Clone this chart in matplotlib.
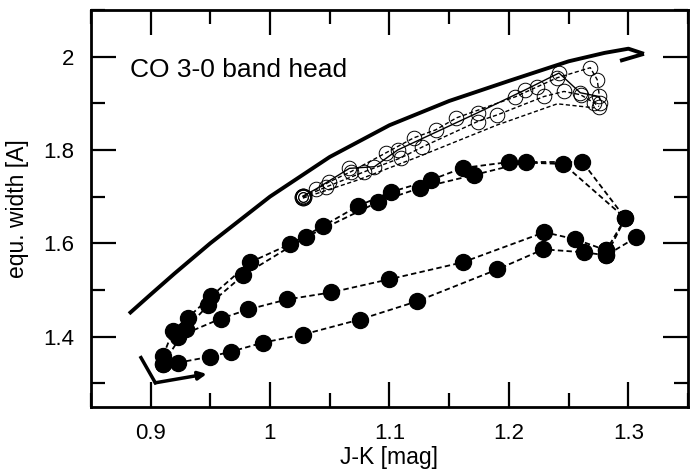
import matplotlib
matplotlib.use("Agg")
import matplotlib.pyplot as plt
from matplotlib.ticker import MultipleLocator

plt.rcParams["font.family"] = ["Liberation Sans", "DejaVu Sans"]

# thick model track
track_x = [0.882, 0.900, 0.920, 0.950, 0.980, 1.000, 1.050, 1.100, 1.150, 1.200, 1.250, 1.280, 1.300, 1.313]
track_y = [1.449, 1.490, 1.535, 1.600, 1.660, 1.700, 1.785, 1.853, 1.905, 1.948, 1.990, 2.008, 2.017, 2.006]
hook_x = [1.293, 1.313]
hook_y = [1.991, 2.006]

# bent arrow at lower left
arrow_x = [0.892, 0.904, 0.947]
arrow_y = [1.355, 1.301, 1.320]

# filled circles: two rising tracks, two returning tracks
up1_x = [0.9105, 0.9189, 0.9314, 0.9506, 0.9832, 1.0164, 1.0442, 1.0734, 1.1010, 1.1345, 1.1612, 1.2004, 1.2456, 1.2974, 1.2815]
up1_y = [1.3591, 1.4129, 1.4409, 1.4860, 1.5591, 1.5978, 1.6366, 1.6796, 1.7097, 1.7355, 1.7613, 1.7742, 1.7699, 1.6538, 1.5849]
up2_x = [0.9105, 0.9297, 0.9481, 0.9774, 1.0302, 1.0902, 1.1253, 1.1704, 1.2146, 1.2615, 1.2974, 1.2815, 1.3066]
up2_y = [1.3419, 1.4172, 1.4667, 1.5312, 1.6135, 1.6882, 1.7183, 1.7462, 1.7742, 1.7742, 1.6538, 1.5742, 1.6129]
mid_x = [1.2815, 1.2556, 1.2297, 1.1612, 1.0994, 1.0509, 1.0142, 0.9816, 0.9590, 0.9231]
mid_y = [1.5849, 1.6086, 1.6237, 1.5591, 1.5226, 1.4946, 1.4796, 1.4581, 1.4387, 1.4000]
low_x = [1.2815, 1.2631, 1.2288, 1.1904, 1.1227, 1.0751, 1.0275, 0.9941, 0.9673, 0.9498, 0.9231, 0.9105]
low_y = [1.5742, 1.5806, 1.5871, 1.5441, 1.4753, 1.4366, 1.4043, 1.3871, 1.3677, 1.3570, 1.3441, 1.3419]

# open circles band
o1_x = [1.0275, 1.0498, 1.0676, 1.0968, 1.1202, 1.1386, 1.1561, 1.2054, 1.2238, 1.2405, 1.2681, 1.2739, 1.2764]
o1_y = [1.6989, 1.7318, 1.7533, 1.7935, 1.8258, 1.8430, 1.8688, 1.9140, 1.9355, 1.9548, 1.9763, 1.9505, 1.9011]
o2_x = [1.0275, 1.0384, 1.0665, 1.0874, 1.1069, 1.1737, 1.2138, 1.2419, 1.2597, 1.2754]
o2_y = [1.7011, 1.7161, 1.7606, 1.7641, 1.8000, 1.8796, 1.9290, 1.9649, 1.9226, 1.9146]
o3_x = [1.0275, 1.0467, 1.0790, 1.1093, 1.1276, 1.1737, 1.1904, 1.2294, 1.2461, 1.2600, 1.2712, 1.2754]
o3_y = [1.6989, 1.7204, 1.7533, 1.7828, 1.8065, 1.8609, 1.8753, 1.9146, 1.9254, 1.9183, 1.9011, 1.8931]
o4_x = [1.0275, 1.0734, 1.1236, 1.1904, 1.2405, 1.2714]
o4_y = [1.6968, 1.7355, 1.7849, 1.8538, 1.8989, 1.8903]
# concentric rings at the start of the open-circle tracks
ring_x = [1.0275, 1.0275]
ring_y = [1.6995, 1.6995]

fig = plt.figure(figsize=(6.93, 4.75), dpi=100)
ax = fig.add_axes([0.131, 0.144, 0.862, 0.835])

ax.plot(track_x, track_y, color="k", lw=2.8, solid_capstyle="butt", solid_joinstyle="round")
ax.plot(hook_x, hook_y, color="k", lw=2.8, solid_capstyle="butt")

ax.plot(arrow_x[:2], arrow_y[:2], color="k", lw=2.5)
ax.annotate("", xy=(arrow_x[2], arrow_y[2]), xytext=(arrow_x[1], arrow_y[1]),
            arrowprops=dict(arrowstyle="-|>", lw=2.5, color="k", mutation_scale=12,
                            shrinkA=0, shrinkB=0))

dash = (0, (3, 1.8))
for xs, ys in [(up1_x, up1_y), (up2_x, up2_y), (mid_x, mid_y), (low_x, low_y)]:
    ax.plot(xs, ys, color="k", lw=1.3, ls=dash, marker="o", ms=11.5,
            mfc="k", mec="k")

ax.plot(o4_x, o4_y, color="k", lw=1.0, ls=dash)
for xs, ys, st in [(o1_x, o1_y, dash), (o2_x, o2_y, "-"), (o3_x, o3_y, dash)]:
    ax.plot(xs, ys, color="k", lw=1.0, ls=st, marker="o", ms=10.5,
            mfc="none", mec="k", mew=0.7)
for ms in [7, 12]:
    ax.plot(ring_x, ring_y, ls="none", marker="o", ms=ms, mfc="none", mec="k", mew=0.7)

ax.text(0.8827, 1.972, "CO 3-0 band head", fontsize=19, va="center", ha="left")

ax.set_xlim(0.85, 1.35)
ax.set_ylim(1.25, 2.1)
ax.xaxis.set_minor_locator(MultipleLocator(0.05))
ax.yaxis.set_minor_locator(MultipleLocator(0.1))
ax.set_xticks([0.9, 1.0, 1.1, 1.2, 1.3])
ax.set_xticklabels(["0.9", "1", "1.1", "1.2", "1.3"])
ax.set_yticks([1.4, 1.6, 1.8, 2.0])
ax.set_yticklabels(["1.4", "1.6", "1.8", "2"])
ax.tick_params(which="both", direction="in", top=True, right=True, width=1.6,
               labelsize=16, pad=12)
ax.tick_params(which="major", length=18)
ax.tick_params(which="minor", length=10)
for s in ax.spines.values():
    s.set_linewidth(2)

ax.set_xlabel("J-K [mag]", fontsize=16.5, labelpad=1)
ax.set_ylabel("equ. width [A]", fontsize=16.5, labelpad=10)

fig.savefig("out.png", dpi=100)
